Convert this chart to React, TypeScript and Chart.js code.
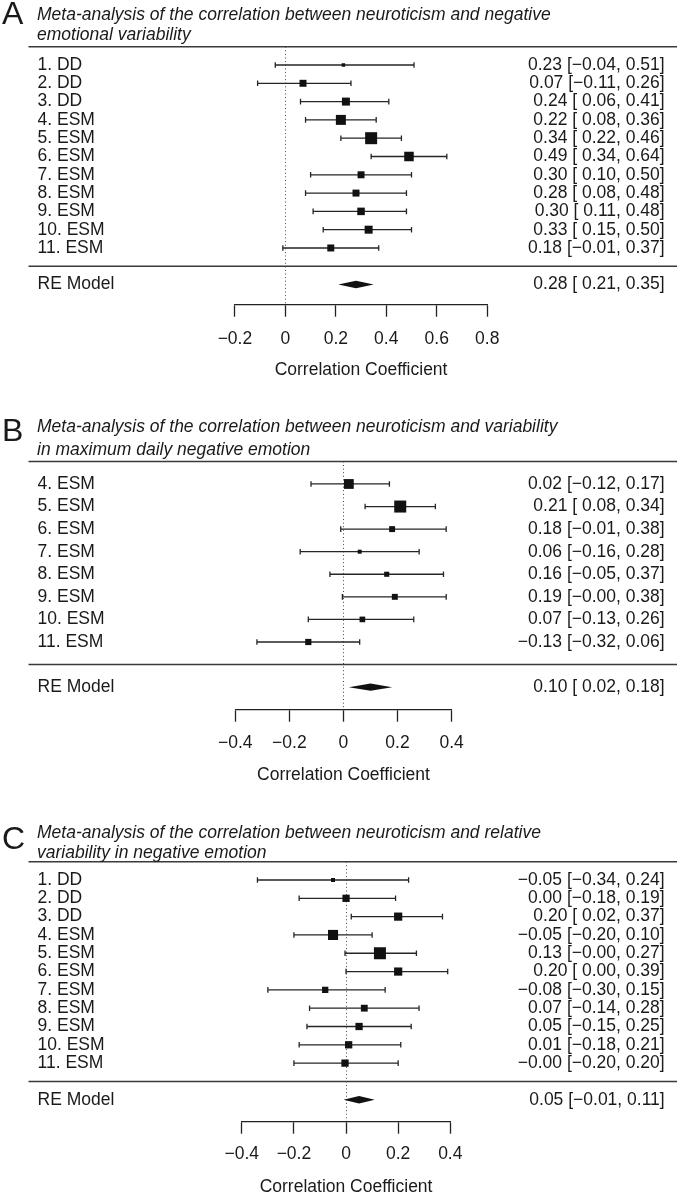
import React, { useEffect, useRef } from 'react';
import { Chart, registerables } from 'chart.js';

Chart.register(...registerables);

const FONT = "'Liberation Sans', Arial, Helvetica, sans-serif";
const INK = '#1a1a1a';

// ---------------- Panel A ----------------
const titleA = ['Meta-analysis of the correlation between neuroticism and negative', 'emotional variability'];
const studiesA = ['1. DD', '2. DD', '3. DD', '4. ESM', '5. ESM', '6. ESM', '7. ESM', '8. ESM', '9. ESM', '10. ESM', '11. ESM'];
const estA = [0.23, 0.07, 0.24, 0.22, 0.34, 0.49, 0.30, 0.28, 0.30, 0.33, 0.18];
const loA = [-0.04, -0.11, 0.06, 0.08, 0.22, 0.34, 0.10, 0.08, 0.11, 0.15, -0.01];
const hiA = [0.51, 0.26, 0.41, 0.36, 0.46, 0.64, 0.50, 0.48, 0.48, 0.50, 0.37];
const weightsA = [3.0, 7.5, 8.8, 11.4, 14.0, 10.8, 7.5, 7.5, 8.2, 8.8, 7.5];
const summaryA = [0.28, 0.21, 0.35];
const ticksA = [-0.2, 0, 0.2, 0.4, 0.6, 0.8];

// ---------------- Panel B ----------------
const titleB = ['Meta-analysis of the correlation between neuroticism and variability', 'in maximum daily negative emotion'];
const studiesB = ['4. ESM', '5. ESM', '6. ESM', '7. ESM', '8. ESM', '9. ESM', '10. ESM', '11. ESM'];
const estB = [0.02, 0.21, 0.18, 0.06, 0.16, 0.19, 0.07, -0.13];
const loB = [-0.12, 0.08, -0.01, -0.16, -0.05, -0.004, -0.13, -0.32];
const hiB = [0.17, 0.34, 0.38, 0.28, 0.37, 0.38, 0.26, 0.06];
const weightsB = [17.0, 21.0, 10.0, 6.5, 8.5, 10.0, 9.5, 10.5];
const summaryB = [0.10, 0.02, 0.18];
const ticksB = [-0.4, -0.2, 0, 0.2, 0.4];

// ---------------- Panel C ----------------
const titleC = ['Meta-analysis of the correlation between neuroticism and relative', 'variability in negative emotion'];
const studiesC = ['1. DD', '2. DD', '3. DD', '4. ESM', '5. ESM', '6. ESM', '7. ESM', '8. ESM', '9. ESM', '10. ESM', '11. ESM'];
const estC = [-0.05, 0.00, 0.20, -0.05, 0.13, 0.20, -0.08, 0.07, 0.05, 0.01, -0.004];
const loC = [-0.34, -0.18, 0.02, -0.20, -0.004, 0.00, -0.30, -0.14, -0.15, -0.18, -0.20];
const hiC = [0.24, 0.19, 0.37, 0.10, 0.27, 0.39, 0.15, 0.28, 0.25, 0.21, 0.20];
const weightsC = [3.5, 7.8, 9.0, 11.5, 14.0, 9.0, 6.5, 7.2, 7.8, 7.8, 7.8];
const summaryC = [0.05, -0.01, 0.11];
const ticksC = [-0.4, -0.2, 0, 0.2, 0.4];

const axisTitle = 'Correlation Coefficient';
const summaryLabel = 'RE Model';

type Panel = {
  letter: string; title: string[]; studies: string[]; est: number[]; lo: number[]; hi: number[];
  weights: number[]; summary: number[]; ticks: number[];
};

const panelA: Panel = { letter: 'A', title: titleA, studies: studiesA, est: estA, lo: loA, hi: hiA, weights: weightsA, summary: summaryA, ticks: ticksA };
const panelB: Panel = { letter: 'B', title: titleB, studies: studiesB, est: estB, lo: loB, hi: hiB, weights: weightsB, summary: summaryB, ticks: ticksB };
const panelC: Panel = { letter: 'C', title: titleC, studies: studiesC, est: estC, lo: loC, hi: hiC, weights: weightsC, summary: summaryC, ticks: ticksC };

// ---------------- Layout (positions / sizes) ----------------
const W = 677;
const PAD_LEFT = 37.5;
const PAD_RIGHT = 12.3;
const FS = 17.5;

type Layout = {
  top: number; height: number; padTop: number; padBottom: number; plotLeft: number; plotRight: number;
  yMax: number; axisH: number; tickPad: number; letterY: number; titleY: number[]; side: number[];
};

const layoutA: Layout = { top: 0, height: 390, padTop: 46.7, padBottom: 9.5, plotLeft: 234.9, plotRight: 487.2, yMax: 14.1, axisH: 75.8, tickPad: 11.8, letterY: 15, titleY: [15, 35], side: [3.5, 12] };
const layoutB: Layout = { top: 390, height: 400, padTop: 71.4, padBottom: 4.5, plotLeft: 235.3, plotRight: 451.6, yMax: 11, axisH: 75.8, tickPad: 10.8, letterY: 42.5, titleY: [37, 60], side: [4, 12] };
const layoutC: Layout = { top: 790, height: 408, padTop: 71.7, padBottom: 0.8, plotLeft: 241.8, plotRight: 450.3, yMax: 14.2, axisH: 75.5, tickPad: 9.8, letterY: 50, titleY: [43, 63], side: [4, 12] };

const fmt2 = (v: number) => v.toFixed(2).replace('-', '\u2212');
const ciText = (e: number, l: number, h: number) => {
  const ls = fmt2(l);
  return `${fmt2(e)} [${ls.startsWith('\u2212') ? ls : ' ' + ls}, ${fmt2(h)}]`;
};
const tickText = (v: number) => (Math.abs(v) < 1e-9 ? '0' : v.toFixed(1).replace('-', '\u2212'));

function buildConfig(p: Panel, L: Layout): any {
  const k = p.studies.length;
  const rows = p.studies.map((_, i) => i + 1);
  const reRow = k + 2;
  const sepRow = k + 1;
  const leftMap = new Map<number, string>();
  const rightMap = new Map<number, string>();
  rows.forEach((r, i) => {
    leftMap.set(r, p.studies[i]);
    rightMap.set(r, ciText(p.est[i], p.lo[i], p.hi[i]));
  });
  leftMap.set(reRow, summaryLabel);
  rightMap.set(reRow, ciText(p.summary[0], p.summary[1], p.summary[2]));
  const yTicks = [...rows, reRow];

  const wMin = Math.min(...p.weights);
  const wMax = Math.max(...p.weights);
  const sides = p.weights.map(w => L.side[0] + ((w - wMin) / (wMax - wMin)) * (L.side[1] - L.side[0]));
  const radii = sides.map(s => s / Math.SQRT2);

  const font = { family: FONT, size: FS };

  const forestPlugin = {
    id: 'forest' + p.letter,
    beforeDatasetsDraw(chart: any) {
      const { ctx, scales } = chart;
      const x = scales.x;
      const y = scales.y;
      ctx.save();
      ctx.strokeStyle = '#262626';
      ctx.lineWidth = 1.3;
      rows.forEach((r, i) => {
        const py = y.getPixelForValue(r);
        const x1 = x.getPixelForValue(p.lo[i]);
        const x2 = x.getPixelForValue(p.hi[i]);
        ctx.beginPath();
        ctx.moveTo(x1, py); ctx.lineTo(x2, py);
        ctx.moveTo(x1, py - 2.8); ctx.lineTo(x1, py + 2.8);
        ctx.moveTo(x2, py - 2.8); ctx.lineTo(x2, py + 2.8);
        ctx.stroke();
      });
      // summary diamond
      const py = y.getPixelForValue(reRow);
      const xe = x.getPixelForValue(p.summary[0]);
      const xl = x.getPixelForValue(p.summary[1]);
      const xh = x.getPixelForValue(p.summary[2]);
      ctx.fillStyle = '#111';
      ctx.beginPath();
      ctx.moveTo(xl, py); ctx.lineTo(xe, py - 3.7); ctx.lineTo(xh, py); ctx.lineTo(xe, py + 3.7);
      ctx.closePath();
      ctx.fill();
      ctx.restore();
    },
    afterDraw(chart: any) {
      const { ctx, scales } = chart;
      const y = scales.y;
      ctx.save();
      // horizontal rules
      ctx.strokeStyle = '#3a3a3a';
      ctx.lineWidth = 1.5;
      [0, sepRow].forEach(v => {
        const py = y.getPixelForValue(v);
        ctx.beginPath();
        ctx.moveTo(28.5, py); ctx.lineTo(W, py);
        ctx.stroke();
      });
      // panel letter
      ctx.fillStyle = INK;
      ctx.textBaseline = 'middle';
      ctx.textAlign = 'left';
      ctx.font = `32px ${FONT}`;
      ctx.fillText(p.letter, 2, L.letterY);
      // title
      ctx.font = `italic ${FS}px ${FONT}`;
      p.title.forEach((t, i) => ctx.fillText(t, 37, L.titleY[i]));
      ctx.restore();
    },
  };

  const yCommon = (map: Map<number, string>, pos: string, width: number) => ({
    type: 'linear',
    position: pos,
    min: 0,
    max: L.yMax,
    reverse: true,
    bounds: 'data',
    grid: { display: false },
    border: { display: false },
    afterBuildTicks: (s: any) => { s.ticks = yTicks.map(v => ({ value: v })); },
    afterFit: (s: any) => { s.width = width; },
    ticks: {
      autoSkip: false,
      crossAlign: 'far',
      padding: 0,
      color: INK,
      font,
      callback: (v: number) => map.get(v) ?? '',
    },
  });

  return {
    type: 'scatter',
    data: {
      datasets: [
        {
          data: rows.map((r, i) => ({ x: p.est[i], y: r })),
          xAxisID: 'x',
          yAxisID: 'y',
          pointStyle: 'rect',
          pointRadius: radii,
          pointHoverRadius: radii,
          pointBackgroundColor: '#111',
          pointBorderWidth: 0,
          clip: false,
        },
      ],
    },
    options: {
      responsive: false,
      animation: false,
      events: [],
      layout: { padding: { top: L.padTop, bottom: L.padBottom, left: PAD_LEFT, right: PAD_RIGHT } },
      plugins: { legend: { display: false }, tooltip: { enabled: false } },
      scales: {
        x: {
          type: 'linear',
          position: 'bottom',
          min: p.ticks[0],
          max: p.ticks[p.ticks.length - 1],
          bounds: 'data',
          afterBuildTicks: (s: any) => { s.ticks = p.ticks.map(v => ({ value: v })); },
          afterFit: (s: any) => { s.height = L.axisH; },
          grid: {
            display: true,
            drawOnChartArea: true,
            drawTicks: true,
            tickLength: 12,
            lineWidth: 1,
            tickWidth: 1.3,
            tickColor: '#222',
            color: (c: any) => (c.tick && Math.abs(c.tick.value) < 1e-9 ? '#444' : 'rgba(0,0,0,0)'),
          },
          border: { display: true, color: '#222', width: 1.3, dash: [1, 2.6] },
          ticks: {
            autoSkip: false,
            maxRotation: 0,
            padding: L.tickPad,
            color: INK,
            font,
            callback: (v: number) => tickText(v),
          },
          title: { display: true, text: axisTitle, color: INK, font, padding: { top: 0, bottom: 0 } },
        },
        y: yCommon(leftMap, 'left', L.plotLeft - PAD_LEFT),
        y2: yCommon(rightMap, 'right', W - PAD_RIGHT - L.plotRight),
      },
    },
    plugins: [forestPlugin],
  };
}

function ForestPanel({ panel, layout }: { panel: Panel; layout: Layout }) {
  const ref = useRef<HTMLCanvasElement | null>(null);
  useEffect(() => {
    if (!ref.current) return;
    const chart = new Chart(ref.current, buildConfig(panel, layout));
    return () => chart.destroy();
  }, [panel, layout]);
  return (
    <canvas
      ref={ref}
      width={W}
      height={layout.height}
      style={{ position: 'absolute', left: 0, top: layout.top, width: W, height: layout.height, display: 'block' }}
    />
  );
}

export default function App() {
  return (
    <div style={{ position: 'absolute', left: 0, top: 0, width: W, height: 1198, background: '#fff', overflow: 'hidden' }}>
      <ForestPanel panel={panelA} layout={layoutA} />
      <ForestPanel panel={panelB} layout={layoutB} />
      <ForestPanel panel={panelC} layout={layoutC} />
    </div>
  );
}
